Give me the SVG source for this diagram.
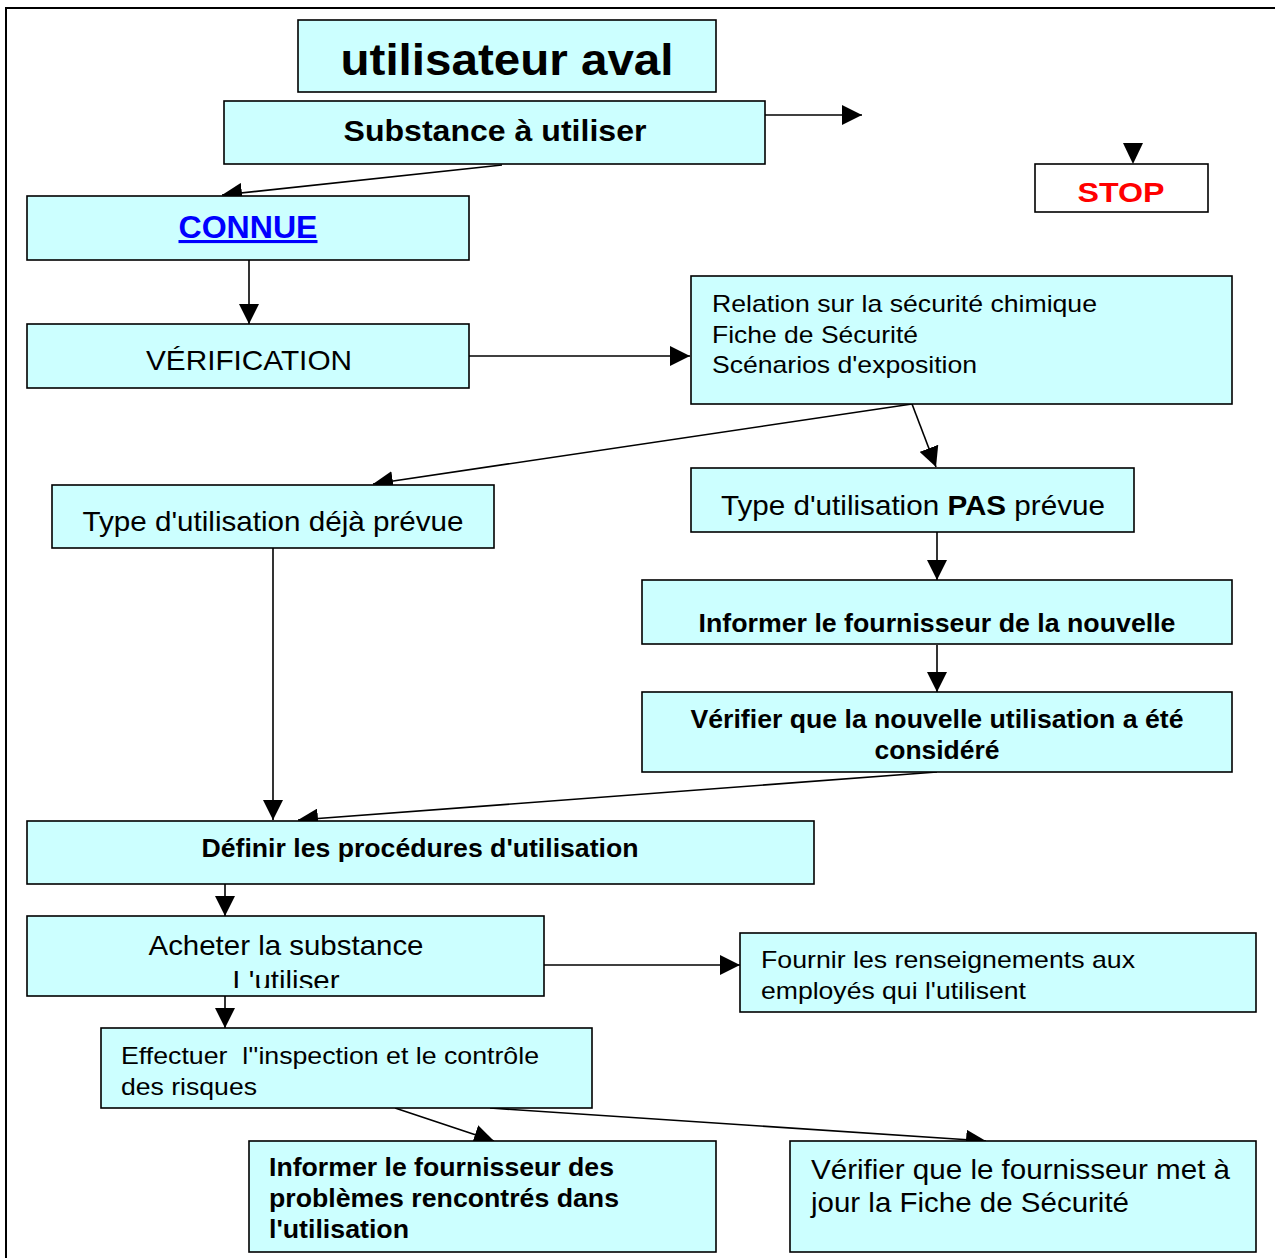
<svg xmlns="http://www.w3.org/2000/svg" width="1275" height="1258" viewBox="0 0 1275 1258">
<style>
.box{fill:#ccffff;stroke:#000;stroke-width:1.6}
.w{fill:#fff;stroke:#000;stroke-width:1.6}
text{font-family:"Liberation Sans",Arial,sans-serif;fill:#000}
.b{font-weight:bold}
.c{text-anchor:middle}
.cn line{stroke:#000;stroke-width:1.6}
</style>
<defs>
<marker id="a" markerUnits="userSpaceOnUse" markerWidth="22" markerHeight="20" refX="20" refY="10" orient="auto"><path d="M0,0 L20,10 L0,20 Z" fill="#000"/></marker>
<clipPath id="clipA"><rect x="27" y="916" width="517" height="72"/></clipPath>
</defs>
<rect width="1275" height="1258" fill="#fff"/>
<path d="M6,1258 V8 H1275" fill="none" stroke="#000" stroke-width="2"/>

<g id="connectors" class="cn">
<line x1="765" y1="115" x2="862" y2="115" marker-end="url(#a)"/>
<path d="M1123,143 L1143,143 L1133,164 Z" fill="#000"/>
<line x1="502" y1="165" x2="222" y2="195" marker-end="url(#a)"/>
<line x1="249" y1="260" x2="249" y2="324" marker-end="url(#a)"/>
<line x1="469" y1="356" x2="690" y2="356" marker-end="url(#a)"/>
<line x1="912" y1="404" x2="373" y2="484" marker-end="url(#a)"/>
<line x1="912" y1="404" x2="936" y2="467" marker-end="url(#a)"/>
<line x1="937" y1="532" x2="937" y2="580" marker-end="url(#a)"/>
<line x1="937" y1="645" x2="937" y2="692" marker-end="url(#a)"/>
<line x1="937" y1="772" x2="298" y2="820" marker-end="url(#a)"/>
<line x1="273" y1="548" x2="273" y2="820" marker-end="url(#a)"/>
<line x1="225" y1="884" x2="225" y2="916" marker-end="url(#a)"/>
<line x1="544" y1="965" x2="740" y2="965" marker-end="url(#a)"/>
<line x1="225" y1="996" x2="225" y2="1028" marker-end="url(#a)"/>
<line x1="395" y1="1108" x2="494" y2="1141" marker-end="url(#a)"/>
<line x1="490" y1="1108" x2="986" y2="1141" marker-end="url(#a)"/>
</g>

<g id="n-utilisateur">
<rect class="box" x="298" y="20" width="418" height="72"/>
<text class="b c" x="507" y="75" font-size="45" textLength="333" lengthAdjust="spacingAndGlyphs">utilisateur aval</text>
</g>
<g id="n-substance">
<rect class="box" x="224" y="101" width="541" height="63"/>
<text class="b c" x="495" y="141" font-size="29" textLength="303" lengthAdjust="spacingAndGlyphs">Substance à utiliser</text>
</g>
<g id="n-stop">
<rect class="w" x="1035" y="164" width="173" height="48"/>
<text class="b c" x="1121" y="202" font-size="28" style="fill:#ff0000" textLength="87" lengthAdjust="spacingAndGlyphs">STOP</text>
</g>
<g id="n-connue">
<rect class="box" x="27" y="196" width="442" height="64"/>
<text class="b c" x="248" y="238" font-size="31" style="fill:#0000ff" text-decoration="underline" textLength="139" lengthAdjust="spacingAndGlyphs">CONNUE</text>
</g>
<g id="n-verification">
<rect class="box" x="27" y="324" width="442" height="64"/>
<text class="c" x="249" y="370" font-size="28" textLength="206" lengthAdjust="spacingAndGlyphs">VÉRIFICATION</text>
</g>
<g id="n-relation">
<rect class="box" x="691" y="276" width="541" height="128"/>
<text x="712" y="312" font-size="24" textLength="385" lengthAdjust="spacingAndGlyphs">Relation sur la sécurité chimique</text>
<text x="712" y="343" font-size="24" textLength="206" lengthAdjust="spacingAndGlyphs">Fiche de Sécurité</text>
<text x="712" y="373" font-size="24" textLength="265" lengthAdjust="spacingAndGlyphs">Scénarios d'exposition</text>
</g>
<g id="n-deja">
<rect class="box" x="52" y="485" width="442" height="63"/>
<text class="c" x="273" y="531" font-size="28" textLength="381" lengthAdjust="spacingAndGlyphs">Type d'utilisation déjà prévue</text>
</g>
<g id="n-pas">
<rect class="box" x="691" y="468" width="443" height="64"/>
<text class="c" x="913" y="515" font-size="28" textLength="384" lengthAdjust="spacingAndGlyphs">Type d'utilisation <tspan class="b">PAS</tspan> prévue</text>
</g>
<g id="n-informer-nouvelle">
<rect class="box" x="642" y="580" width="590" height="64"/>
<text class="b c" x="937" y="632" font-size="25" textLength="477" lengthAdjust="spacingAndGlyphs">Informer le fournisseur de la nouvelle</text>
</g>
<g id="n-verifier-nouvelle">
<rect class="box" x="642" y="692" width="590" height="80"/>
<text class="b c" x="937" y="728" font-size="25" textLength="493" lengthAdjust="spacingAndGlyphs">Vérifier que la nouvelle utilisation a été</text>
<text class="b c" x="937" y="759" font-size="25" textLength="125" lengthAdjust="spacingAndGlyphs">considéré</text>
</g>
<g id="n-definir">
<rect class="box" x="27" y="821" width="787" height="63"/>
<text class="b c" x="420" y="857" font-size="25" textLength="437" lengthAdjust="spacingAndGlyphs">Définir les procédures d'utilisation</text>
</g>
<g id="n-acheter">
<rect class="box" x="27" y="916" width="517" height="80"/>
<g clip-path="url(#clipA)">
<text class="c" x="286" y="955" font-size="28" textLength="275" lengthAdjust="spacingAndGlyphs">Acheter la substance</text>
<text class="c" x="286" y="990" font-size="28" textLength="107" lengthAdjust="spacingAndGlyphs">L'utiliser</text>
</g>
</g>
<g id="n-fournir">
<rect class="box" x="740" y="933" width="516" height="79"/>
<text x="761" y="968" font-size="24" textLength="374" lengthAdjust="spacingAndGlyphs">Fournir les renseignements aux</text>
<text x="761" y="999" font-size="24" textLength="265" lengthAdjust="spacingAndGlyphs">employés qui l'utilisent</text>
</g>
<g id="n-effectuer">
<rect class="box" x="101" y="1028" width="491" height="80"/>
<text x="121" y="1064" font-size="24" textLength="418" lengthAdjust="spacingAndGlyphs" xml:space="preserve">Effectuer  l''inspection et le contrôle</text>
<text x="121" y="1095" font-size="24" textLength="136" lengthAdjust="spacingAndGlyphs">des risques</text>
</g>
<g id="n-informer-problemes">
<rect class="box" x="249" y="1141" width="467" height="111"/>
<text class="b" x="269" y="1176" font-size="25" textLength="345" lengthAdjust="spacingAndGlyphs">Informer le fournisseur des</text>
<text class="b" x="269" y="1207" font-size="25" textLength="350" lengthAdjust="spacingAndGlyphs">problèmes rencontrés dans</text>
<text class="b" x="269" y="1238" font-size="25" textLength="140" lengthAdjust="spacingAndGlyphs">l'utilisation</text>
</g>
<g id="n-verifier-fiche">
<rect class="box" x="790" y="1141" width="466" height="111"/>
<text x="811" y="1179" font-size="28" textLength="419" lengthAdjust="spacingAndGlyphs">Vérifier que le fournisseur met à</text>
<text x="811" y="1212" font-size="28" textLength="318" lengthAdjust="spacingAndGlyphs">jour la Fiche de Sécurité</text>
</g>
</svg>
